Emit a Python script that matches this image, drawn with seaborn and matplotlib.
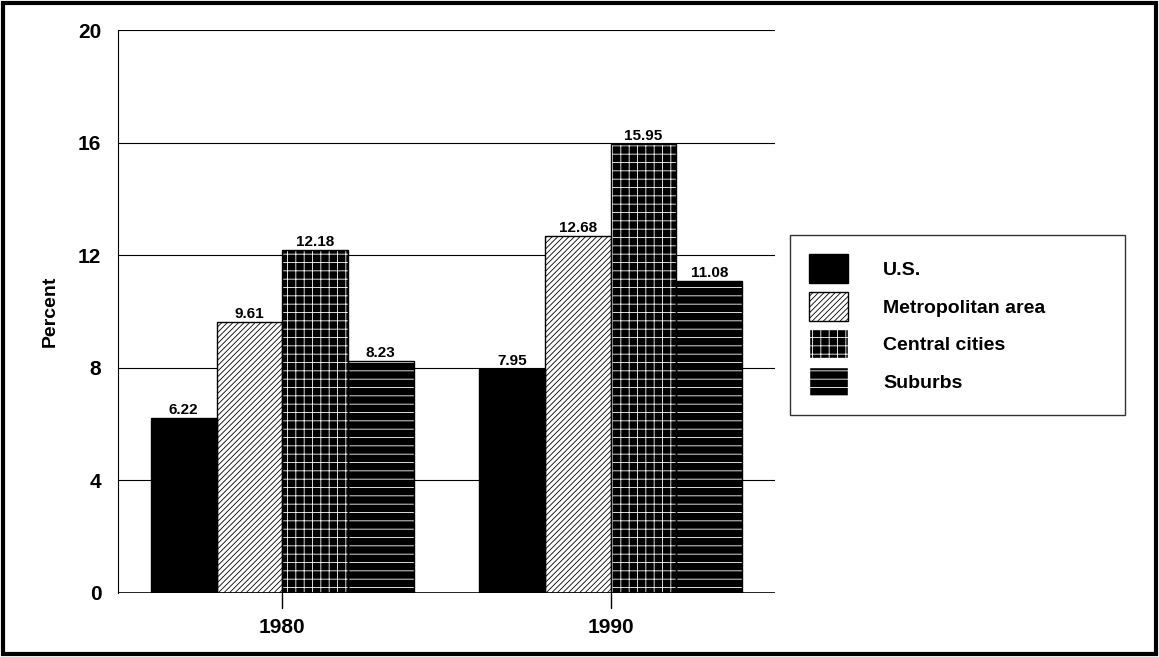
import matplotlib
matplotlib.use("Agg")
import matplotlib.pyplot as plt
import seaborn as sns
import pandas as pd
from matplotlib.patches import Patch, Rectangle

years = ["1980", "1990"]
series = ["U.S.", "Metropolitan area", "Central cities", "Suburbs"]
us = [6.22, 7.95]
metro = [9.61, 12.68]
central = [12.18, 15.95]
suburbs = [8.23, 11.08]

df = pd.DataFrame({
    "year": years * 4,
    "area": [s for s in series for _ in years],
    "value": us + metro + central + suburbs,
})

sns.set_style("white")
plt.rcParams["font.family"] = ["Liberation Sans", "DejaVu Sans"]
plt.rcParams["hatch.linewidth"] = 0.6
for k in ["text.color", "axes.labelcolor", "xtick.color", "ytick.color"]:
    plt.rcParams[k] = "black"

fig = plt.figure(figsize=(11.59, 6.57), dpi=100)
ax = fig.add_axes([118 / 1159, 64 / 657, 657 / 1159, 563 / 657])

sns.barplot(data=df, x="year", y="value", hue="area", hue_order=series,
            palette=["black"] * 4, width=0.8, ax=ax, legend=False)

styles = [
    dict(fc="black", ec="black", hatch=None),
    dict(fc="white", ec="black", hatch="//////"),
    dict(fc="black", ec="white", hatch="++"),
    dict(fc="black", ec="white", hatch="--"),
]
for cont, st in zip(ax.containers, styles):
    for bar in cont:
        bar.set_facecolor(st["fc"])
        bar.set_edgecolor(st["ec"])
        bar.set_linewidth(0.5)
        if st["hatch"]:
            bar.set_hatch(st["hatch"])
        ax.add_patch(Rectangle(bar.get_xy(), bar.get_width(), bar.get_height(),
                               fill=False, ec="black", lw=1, zorder=3))
    ax.bar_label(cont, fmt="%.2f", fontsize=11, fontweight="bold", padding=1)

ax.set_ylim(0, 20)
ax.set_xlim(-0.5, 1.5)
ax.set_yticks([0, 4, 8, 12, 16, 20])
ax.yaxis.grid(True, color="black", lw=0.8)
ax.set_axisbelow(True)
for s in ["top", "right", "bottom"]:
    ax.spines[s].set_visible(False)
ax.spines["left"].set_color("black")
ax.axhline(0, color="black", lw=1.2)
ax.tick_params(axis="y", labelsize=15, length=0, pad=12)
ax.tick_params(axis="x", labelsize=15, length=0, pad=18)
for lab in ax.get_xticklabels() + ax.get_yticklabels():
    lab.set_fontweight("bold")
ax.set_xlabel("")
ax.set_ylabel("Percent", fontsize=14, fontweight="bold", labelpad=14)
for x in [0, 1]:
    ax.plot([x, x], [0, -0.55], color="black", lw=1, clip_on=False)

handles = [Patch(facecolor=st["fc"], edgecolor=st["ec"], hatch=st["hatch"]) for st in styles]
x0, x1 = 790 / 1159, 1125 / 1159
top = 1 - 235 / 657
leg = fig.legend(handles, series, loc="upper left",
                 bbox_to_anchor=(x0, top - 0.3, x1 - x0, 0.3), mode="expand",
                 frameon=True, fancybox=False, edgecolor="black",
                 prop={"weight": "bold", "size": 14}, handlelength=2.0, handleheight=1.9,
                 labelspacing=0.45, borderpad=1.0, borderaxespad=0, handletextpad=1.8)
leg.get_frame().set_linewidth(1)

fig.patches.append(Rectangle((0.003, 0.004), 0.994, 0.992, transform=fig.transFigure,
                             fill=False, ec="black", lw=3))
fig.savefig("out.png", dpi=100)
